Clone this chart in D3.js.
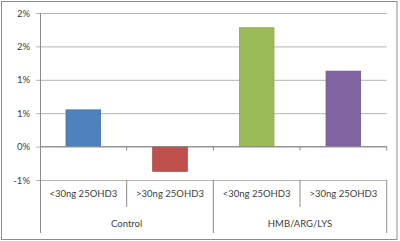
<!DOCTYPE html>
<html>
<head>
<meta charset="utf-8">
<script src="https://cdn.jsdelivr.net/npm/d3@7"></script>
<style>
  body { margin: 0; background: #fff; }
  text { font-family: Lato, "Open Sans", sans-serif; font-size: 9.5px; fill: #404040; }
</style>
</head>
<body>
<script>
// chart data
var groups = ['Control', 'HMB/ARG/LYS']
var subLabels = ['<30ng 25OHD3', '>30ng 25OHD3', '<30ng 25OHD3', '>30ng 25OHD3']
var groupOf = [0, 0, 1, 1]
var values = [0.55, -0.37, 1.78, 1.13]   // percent
var colors = ['#4F81BD', '#C0504D', '#9BBB59', '#8064A2']
var strokes = ['#3a6aa3', '#a33d3a', '#85a545', '#6a5089']
var yTicks = [-0.5, 0, 0.5, 1.0, 1.5, 2.0]
var yTickLabels = ['-1%', '0%', '1%', '1%', '2%', '2%']

// layout
var width = 400
var height = 241
var plotLeft = 40, plotRight = 386.7, plotTop = 13, plotBottom = 180
var tableBottom = 233

var svg = d3.select('body').append('svg')
    .attr('width', width)
    .attr('height', height)

// chart border
svg.append('rect')
    .attr('x', 1.5).attr('y', 1.5)
    .attr('width', 395.5).attr('height', 238)
    .attr('fill', 'none').attr('stroke', '#8c8c8c')

var x = d3.scaleBand()
    .domain(d3.range(values.length))
    .range([plotLeft, plotRight])
    .paddingInner(0.6)
    .paddingOuter(0.3)

var y = d3.scaleLinear()
    .domain([yTicks[0], yTicks[yTicks.length - 1]])
    .range([plotBottom, plotTop])

// gridlines + y tick labels via axis
var yAxis = d3.axisRight(y)
    .tickValues(yTicks)
    .tickSize(plotRight - plotLeft + 4)
    .tickFormat((d, i) => yTickLabels[i])

var gy = svg.append('g')
    .attr('transform', 'translate(' + (plotLeft - 4) + ',0)')
    .call(yAxis)
gy.select('.domain').remove()
gy.selectAll('line').attr('stroke', '#b3b3b3')
gy.selectAll('text')
    .attr('x', -6)
    .attr('text-anchor', 'end')
    .style('fill', '#404040')
    .style('font-family', 'Lato, "Open Sans", sans-serif')
    .style('font-size', '9.5px')

// bars
svg.selectAll('rect.bar')
    .data(values)
    .enter()
    .append('rect')
    .attr('class', 'bar')
    .attr('x', (d, i) => x(i))
    .attr('width', x.bandwidth())
    .attr('y', d => y(Math.max(0, d)))
    .attr('height', d => Math.abs(y(d) - y(0)))
    .attr('fill', (d, i) => colors[i])
    .attr('stroke', (d, i) => strokes[i])
    .attr('stroke-width', 0.7)

// zero axis line
svg.append('line')
    .attr('x1', plotLeft).attr('x2', plotRight)
    .attr('y1', y(0)).attr('y2', y(0))
    .attr('stroke', '#8c8c8c')

// category boundaries
var step = x.step()
var bounds = d3.range(values.length + 1).map(i => plotLeft + i * step)

// small ticks on zero line
svg.selectAll('line.ztick')
    .data(bounds.slice(1))
    .enter().append('line')
    .attr('x1', d => d).attr('x2', d => d)
    .attr('y1', y(0)).attr('y2', y(0) + 4)
    .attr('stroke', '#8c8c8c')

// left axis line
svg.append('line')
    .attr('x1', plotLeft + 0.5).attr('x2', plotLeft + 0.5)
    .attr('y1', plotTop).attr('y2', tableBottom)
    .attr('stroke', '#8c8c8c')

// label table dividers
bounds.slice(1).forEach((b, i) => {
    var isGroupEdge = (i + 1) % 2 === 0
    svg.append('line')
        .attr('x1', b).attr('x2', b)
        .attr('y1', plotBottom).attr('y2', isGroupEdge ? tableBottom : 207)
        .attr('stroke', '#8c8c8c')
})

// sub labels
svg.selectAll('text.sub')
    .data(subLabels)
    .enter().append('text')
    .attr('class', 'sub')
    .attr('x', (d, i) => x(i) + x.bandwidth() / 2)
    .attr('y', 197)
    .attr('text-anchor', 'middle')
    .text(d => d)

// group labels
svg.selectAll('text.grp')
    .data(groups)
    .enter().append('text')
    .attr('class', 'grp')
    .attr('x', (d, gi) => {
        var idx = groupOf.map((g, i) => g === gi ? i : -1).filter(i => i >= 0)
        return (bounds[idx[0]] + bounds[idx[idx.length - 1] + 1]) / 2
    })
    .attr('y', 227)
    .attr('text-anchor', 'middle')
    .text(d => d)
</script>
</body>
</html>
